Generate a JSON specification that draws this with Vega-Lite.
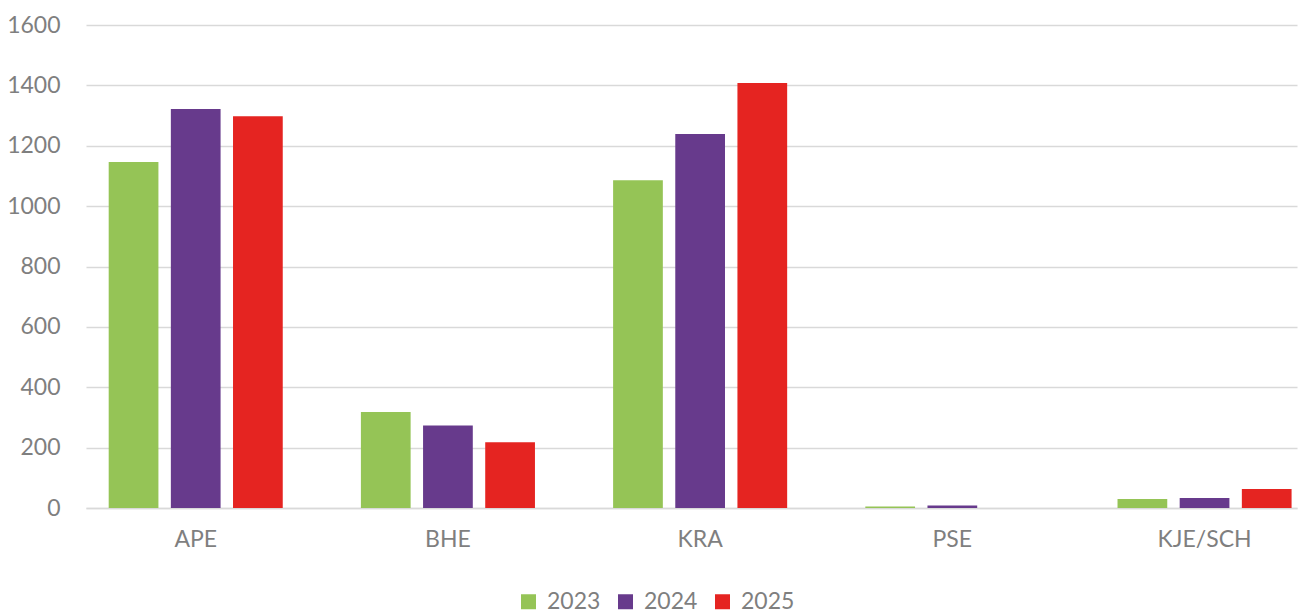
{
  "$schema": "https://vega.github.io/schema/vega-lite/v6.json",
  "width": 1211,
  "height": 483,
  "autosize": {"type": "none"},
  "padding": {"left": 86, "top": 25, "right": 3, "bottom": 107},
  "background": "white",
  "config": {
    "view": {"stroke": null},
    "font": "Lato",
    "axis": {"labelFont": "Lato", "labelColor": "#7f7f7f", "labelFontSize": 23},
    "legend": {"labelFont": "Lato", "labelColor": "#7f7f7f", "labelFontSize": 23}
  },
  "data": {
    "values": [
      {"cat": "APE", "year": "2023", "value": 1146},
      {"cat": "APE", "year": "2024", "value": 1322},
      {"cat": "APE", "year": "2025", "value": 1298},
      {"cat": "BHE", "year": "2023", "value": 318},
      {"cat": "BHE", "year": "2024", "value": 273},
      {"cat": "BHE", "year": "2025", "value": 218},
      {"cat": "KRA", "year": "2023", "value": 1086},
      {"cat": "KRA", "year": "2024", "value": 1239},
      {"cat": "KRA", "year": "2025", "value": 1408},
      {"cat": "PSE", "year": "2023", "value": 5},
      {"cat": "PSE", "year": "2024", "value": 8},
      {"cat": "PSE", "year": "2025", "value": 0},
      {"cat": "KJE/SCH", "year": "2023", "value": 30},
      {"cat": "KJE/SCH", "year": "2024", "value": 33},
      {"cat": "KJE/SCH", "year": "2025", "value": 63}
    ]
  },
  "mark": {"type": "bar"},
  "encoding": {
    "x": {
      "field": "cat",
      "type": "nominal",
      "sort": ["APE", "BHE", "KRA", "PSE", "KJE/SCH"],
      "scale": {"paddingInner": 0.3, "paddingOuter": 0.0508, "align": 0.837},
      "axis": {
        "title": null,
        "labelAngle": 0,
        "ticks": false,
        "domain": true,
        "domainColor": "#d9d9d9",
        "domainWidth": 1.5,
        "labelPadding": 20,
        "labelBaseline": "top"
      }
    },
    "xOffset": {
      "field": "year",
      "type": "nominal",
      "sort": ["2023", "2024", "2025"],
      "scale": {"paddingInner": 0.2, "paddingOuter": 0.02}
    },
    "y": {
      "field": "value",
      "type": "quantitative",
      "scale": {"domain": [0, 1600], "nice": false},
      "axis": {
        "title": null,
        "values": [0, 200, 400, 600, 800, 1000, 1200, 1400, 1600],
        "format": "d",
        "ticks": false,
        "domain": false,
        "grid": true,
        "gridColor": "#d9d9d9",
        "gridWidth": 1.5,
        "labelPadding": 26
      }
    },
    "color": {
      "field": "year",
      "type": "nominal",
      "scale": {"domain": ["2023", "2024", "2025"], "range": ["#95c456", "#673a8c", "#e52421"]},
      "legend": {
        "title": null,
        "orient": "none",
        "direction": "horizontal",
        "legendX": 431,
        "legendY": 565,
        "symbolType": "square",
        "symbolSize": 225,
        "symbolStrokeWidth": 0,
        "labelOffset": 7,
        "columnPadding": 13
      }
    }
  }
}
